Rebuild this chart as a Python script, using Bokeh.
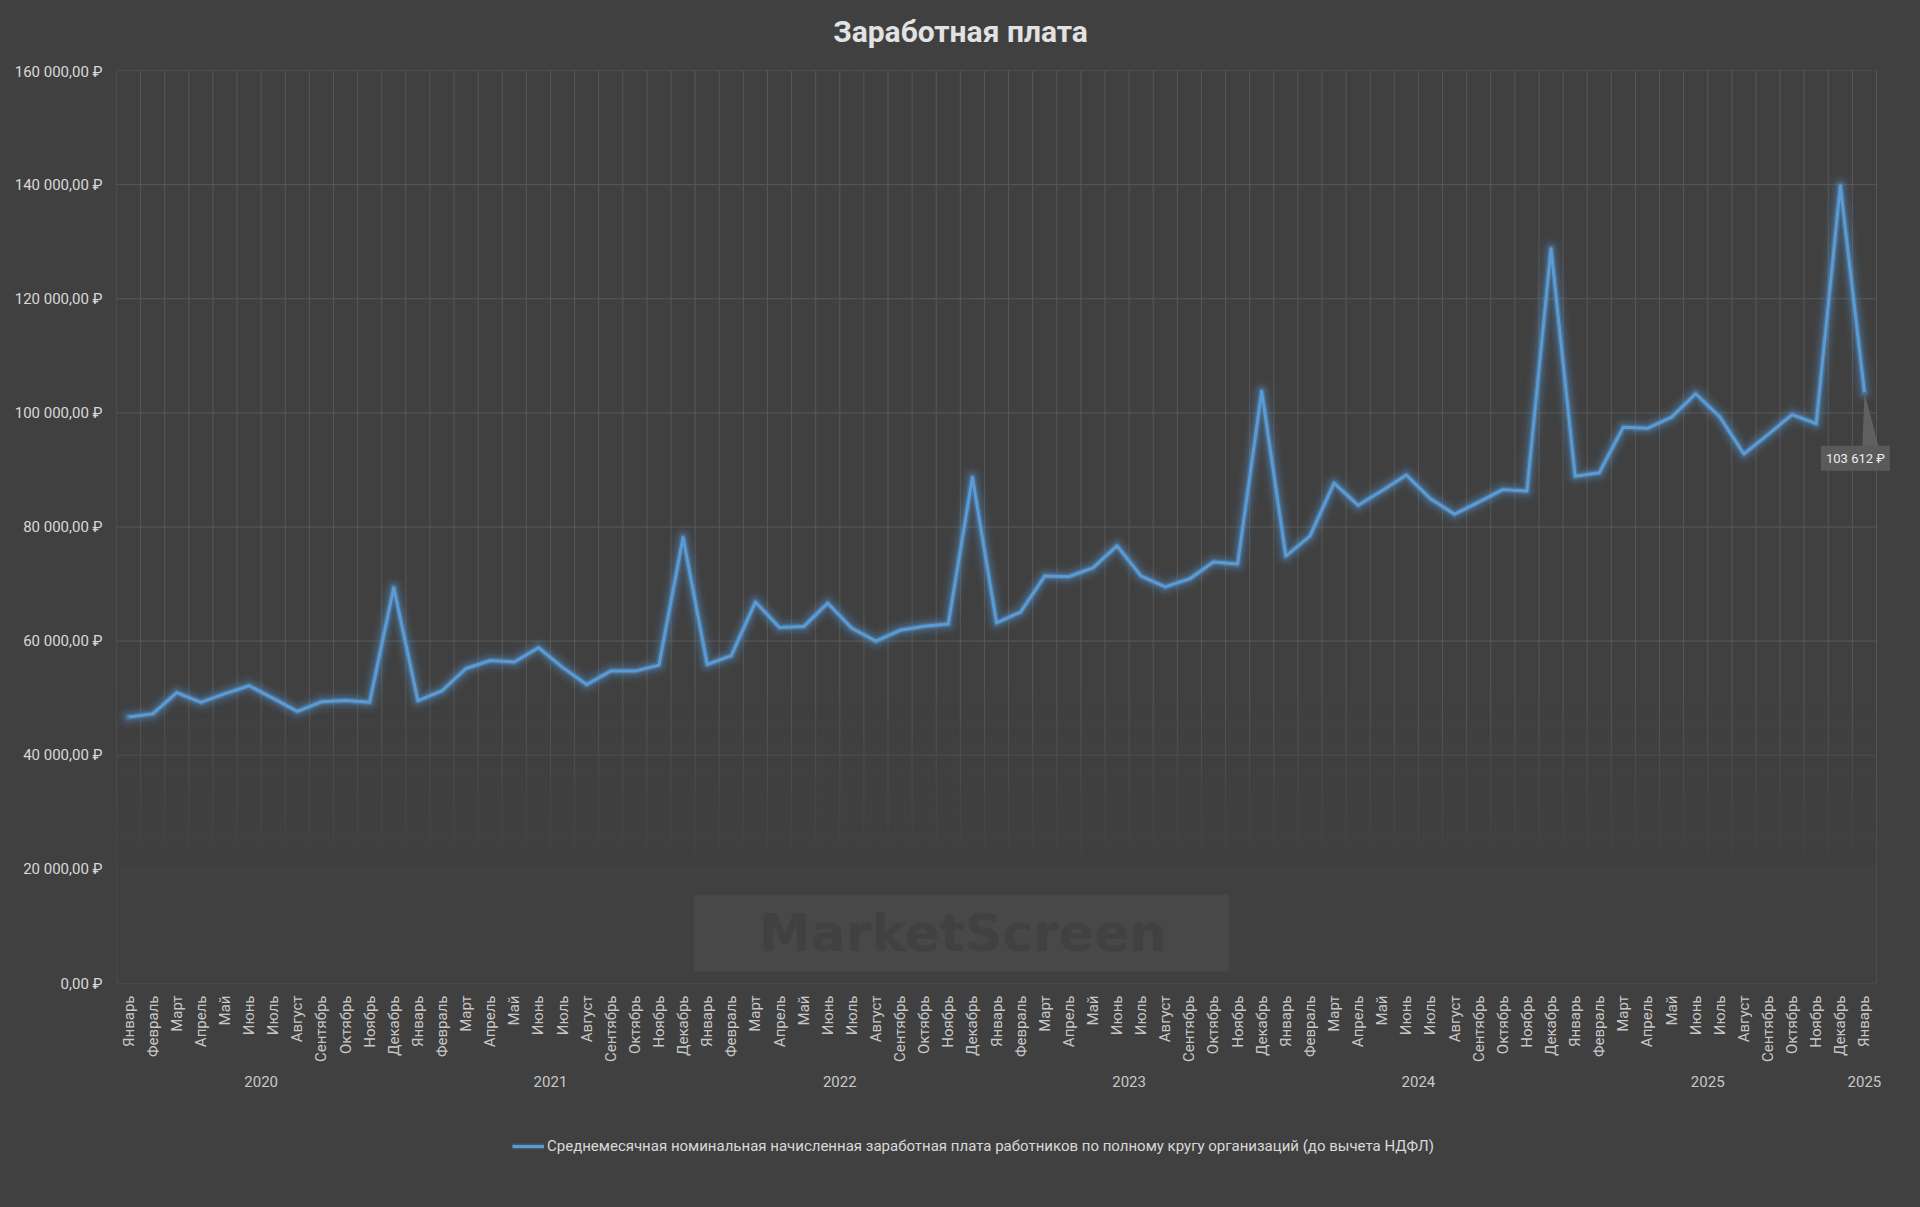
import math
from bokeh.plotting import figure
from bokeh.layouts import column
from bokeh.models import (FixedTicker, LinearAxis, Range1d, Legend, LegendItem, Label)
from bokeh.embed import file_html
from bokeh.resources import INLINE

# ---------------- data ----------------
TITLE = "Заработная плата"
SERIES_NAME = ("Среднемесячная номинальная начисленная заработная плата работников "
               "по полному кругу организаций (до вычета НДФЛ)")
WATERMARK = "MarketScreen"

MONTHS = ["Январь", "Февраль", "Март", "Апрель", "Май", "Июнь", "Июль",
          "Август", "Сентябрь", "Октябрь", "Ноябрь", "Декабрь"]
YEAR_LABELS = ["2020", "2021", "2022", "2023", "2024", "2025", "2025"]
GROUP_SIZES = [12, 12, 12, 12, 12, 12, 1]

WAGES_G1 = [46700, 47250, 50960, 49280, 50800, 52180, 49980, 47700, 49360, 49600, 49300, 69370]
WAGES_G2 = [49560, 51300, 55200, 56600, 56350, 58850, 55400, 52400, 54750, 54750, 55800, 78150]
WAGES_G3 = [55900, 57450, 66850, 62400, 62550, 66650, 62250, 60000, 61900, 62600, 63000, 88700]
WAGES_G4 = [63200, 65100, 71400, 71300, 72850, 76700, 71400, 69500, 70900, 73850, 73500, 103800]
WAGES_G5 = [74900, 78400, 87700, 83800, 86400, 89100, 84950, 82250, 84350, 86550, 86300, 128750]
WAGES_G6 = [88900, 89500, 97500, 97300, 99250, 103350, 99300, 92800, 96200, 99700, 98100, 139800]
WAGES_G7 = [103612]

Y_TICKS = [0, 20000, 40000, 60000, 80000, 100000, 120000, 140000, 160000]

# ---------------- derived ----------------
WAGES = WAGES_G1 + WAGES_G2 + WAGES_G3 + WAGES_G4 + WAGES_G5 + WAGES_G6 + WAGES_G7
month_labels = []
for size in GROUP_SIZES:
    month_labels += MONTHS[:size]
n = len(WAGES)
xs = [i + 0.5 for i in range(n)]
group_centers = []
start = 0
for size in GROUP_SIZES:
    group_centers.append(start + size / 2)
    start += size

Y_MAX = Y_TICKS[-1]

def rub(v, decimals=2):
    s = f"{v:,.{decimals}f}".replace(",", " ").replace(".", ",")
    return s + " ₽"

# ---------------- style ----------------
BG = "#404040"
GRID = "#585858"
TEXT = "#d9d9d9"
LINE = "#5b9bd5"
FONT = "Roboto"

W = 1920
H0, H1, H2 = 62, 1048, 90
FRAME_L, FRAME_R, FRAME_T, FRAME_B = 116, 8, 8, 127
PLOT_W = 1760                      # width of the drawn plot area (px)
frame_w = W - FRAME_L - FRAME_R
frame_h = H1 - FRAME_T - FRAME_B
X_END = n * frame_w / PLOT_W       # extra room at right for the callout

def bare_row(height):
    # same left/right borders as the chart (a column aligns the frames);
    # x range in page pixels
    f = figure(width=W, height=height, output_backend="svg", toolbar_location=None,
               x_range=Range1d(FRAME_L, W - FRAME_R), y_range=Range1d(0, height),
               x_axis_type=None, y_axis_type=None,
               background_fill_color=BG, border_fill_color=BG,
               outline_line_color=None, min_border_left=FRAME_L,
               min_border_right=FRAME_R, min_border_top=0, min_border_bottom=0)
    f.title.visible = False
    return f

# title row
p0 = bare_row(H0)
p0.add_layout(Label(x=W / 2, y=H0 / 2, text=TITLE, text_align="center",
                    text_baseline="middle", text_font=FONT, text_font_size="30px",
                    text_font_style="bold", text_color="#e2e2e2"))

# main chart
p = figure(width=W, height=H1, output_backend="svg", toolbar_location=None,
           x_range=Range1d(0, X_END), y_range=Range1d(0, Y_MAX),
           x_axis_type=None, y_axis_type=None,
           background_fill_color=BG, border_fill_color=BG,
           min_border_left=FRAME_L, min_border_right=FRAME_R,
           min_border_top=FRAME_T, min_border_bottom=FRAME_B,
           outline_line_color=None)
p.title.visible = False

# grid lines
p.segment(x0=0, x1=n, y0=Y_TICKS, y1=Y_TICKS, line_color=GRID, line_width=1)
p.segment(x0=list(range(n + 1)), x1=list(range(n + 1)), y0=0, y1=Y_MAX,
          line_color=GRID, line_width=1)

# fade of the lower part of the plot area
fade_lo, fade_hi, steps = 20000, 52000, 40
bottoms, tops, alphas = [0], [fade_lo], [1.0]
for k in range(steps):
    b = fade_lo + (fade_hi - fade_lo) * k / steps
    t = fade_lo + (fade_hi - fade_lo) * (k + 1) / steps
    bottoms.append(b)
    tops.append(t)
    alphas.append(1.0 - (k + 0.5) / steps)
p.quad(left=0, right=n, bottom=bottoms, top=tops, fill_color=BG,
       fill_alpha=alphas, line_alpha=0)

# watermark
p.quad(left=n * 0.328, right=n * 0.632, bottom=Y_MAX * 0.0131, top=Y_MAX * 0.0975,
       fill_color="white", fill_alpha=0.045, line_alpha=0)
p.add_layout(Label(x=n * 0.4807, y=Y_MAX * 0.0548, text=WATERMARK,
                   text_align="center", text_baseline="middle",
                   text_font="DejaVu Sans", text_font_style="bold",
                   text_font_size="52px", text_color="#414141"))

# glowing line
for w, a in [(22, 0.05), (16, 0.08), (12, 0.11), (8, 0.17), (5.5, 0.30)]:
    p.line(xs, WAGES, line_color=LINE, line_width=w, line_alpha=a,
           line_join="round", line_cap="round")
main = p.line(xs, WAGES, line_color=LINE, line_width=3, line_join="round")

# callout for last point
px_x = PLOT_W / n
px_y = frame_h / Y_MAX
lx, ly = xs[-1], WAGES[-1]
p.patch(x=[lx, lx - 2 / px_x, lx + 14 / px_x],
        y=[ly, ly - 54 / px_y, ly - 54 / px_y],
        fill_color="#606060", line_alpha=0)
p.add_layout(Label(x=lx, y=ly, x_offset=-9, y_offset=-66, text=rub(ly, 0),
                   text_align="center", text_baseline="middle",
                   text_font=FONT, text_font_size="13px", text_color="#ececec",
                   background_fill_color="#5a5a5a", padding=5))

# axes
common = dict(axis_line_color=None, major_tick_line_color=None,
              minor_tick_line_color=None, major_tick_out=0, minor_tick_out=0,
              major_label_text_font=FONT, major_label_text_font_size="15px")

yaxis = LinearAxis(ticker=FixedTicker(ticks=Y_TICKS),
                   major_label_overrides={t: rub(t) for t in Y_TICKS},
                   major_label_text_color=TEXT, major_label_standoff=14, **common)
p.add_layout(yaxis, "left")

maxis = LinearAxis(ticker=FixedTicker(ticks=xs),
                   major_label_overrides=dict(zip(xs, month_labels)),
                   major_label_orientation=math.pi / 2,
                   major_label_text_color="#c8c8c8", major_label_standoff=12, **common)
p.add_layout(maxis, "below")

yraxis = LinearAxis(ticker=FixedTicker(ticks=group_centers),
                    major_label_overrides=dict(zip(group_centers, YEAR_LABELS)),
                    major_label_text_color="#c8c8c8", major_label_standoff=10, **common)
p.add_layout(yraxis, "below")

# legend row (own small figure, sample lines kept outside its visible range)
p2 = bare_row(H2)
lg_glow = p2.line(x=[0, 1], y=[-20, -20], line_color=LINE, line_width=6, line_alpha=0.25)
lg_line = p2.line(x=[0, 1], y=[-20, -20], line_color=LINE, line_width=3)
legend = Legend(items=[LegendItem(label=SERIES_NAME, renderers=[lg_glow, lg_line])],
                location=(512 - FRAME_L, H2 - 36 - 10), orientation="horizontal",
                background_fill_alpha=0, border_line_alpha=0,
                label_text_color=TEXT, label_text_font=FONT,
                label_text_font_size="15px", glyph_width=32, label_standoff=3,
                margin=0, padding=0)
p2.add_layout(legend)

layout = column(p0, p, p2, spacing=0)
html = file_html(layout, INLINE)
html = html.replace("<head>", "<head><style>html,body{background-color:#404040;}</style>", 1)
open("out.html", "w").write(html)
